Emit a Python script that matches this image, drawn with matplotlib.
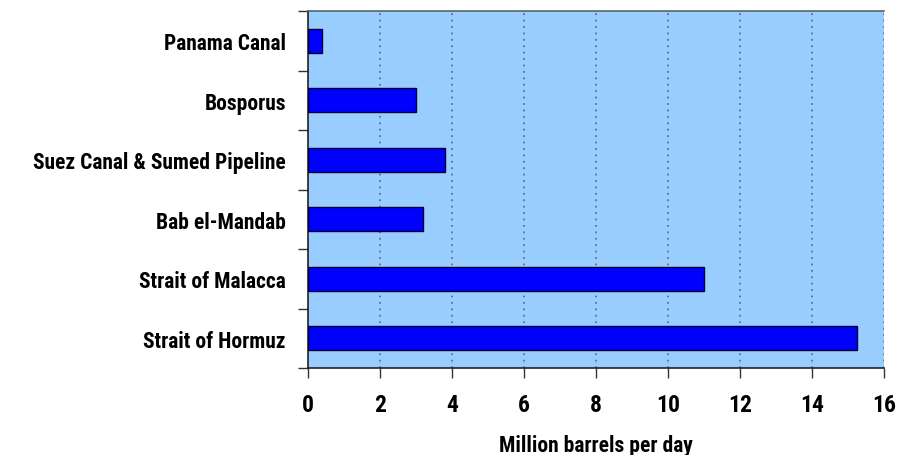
import matplotlib
matplotlib.use("Agg")
import matplotlib.pyplot as plt
from matplotlib import font_manager
import numpy as np

categories = ["Panama Canal", "Bosporus", "Suez Canal & Sumed Pipeline",
              "Bab el-Mandab", "Strait of Malacca", "Strait of Hormuz"]
values = [0.4, 3.0, 3.8, 3.2, 11.0, 15.25]
xticks = [0, 2, 4, 6, 8, 10, 12, 14, 16]

names = {f.name for f in font_manager.fontManager.ttflist}
narrow = None
for cand in ["Liberation Sans Narrow", "Roboto Condensed", "Open Sans Condensed", "Arial Narrow"]:
    if cand in names:
        narrow = cand
        break
has_dv_cond = any(f.name == "DejaVu Sans" and f.stretch == "condensed" for f in font_manager.fontManager.ttflist)

if narrow:
    FONT = [narrow, "Liberation Sans"]
    STRETCH = "normal"
    YS, XS, LS = 15.5, 17, 15.5
elif has_dv_cond:
    FONT = ["DejaVu Sans"]
    STRETCH = "condensed"
    YS, XS, LS = 12.5, 14, 13.5
else:
    FONT = ["Liberation Sans", "DejaVu Sans"]
    STRETCH = "normal"
    YS, XS, LS = 12.5, 14, 13.5

fig = plt.figure(figsize=(8.98, 4.56), dpi=100)
ax = fig.add_axes([308/898, 1-369/456, (884-308)/898, (369-12)/456])
ax.set_facecolor("#99CCFF")

y = np.arange(len(categories))
ax.barh(y, values, height=0.41, color="#0000FF", edgecolor="#000033", linewidth=1.0, zorder=3)

ax.set_xlim(0, 16)
ax.set_ylim(len(categories)-0.5, -0.5)

fp_kw = dict(fontfamily=FONT, fontweight=900, fontstretch=STRETCH)
ax.set_xticks(xticks)
ax.set_xticklabels([str(t) for t in xticks], fontsize=XS, **fp_kw)
ax.set_yticks(y)
ax.set_yticklabels(categories, fontsize=YS, **fp_kw)
ax.set_yticks(np.arange(-0.5, len(categories)), minor=True)
ax.tick_params(axis="y", which="major", length=0, pad=16)
ax.tick_params(axis="y", which="minor", length=7, width=1, color="#333333", direction="out")
ax.tick_params(axis="x", which="major", length=7, width=1, color="#333333", pad=11)

for t in xticks[1:]:
    ax.axvline(t, color="#556677", linestyle=(0, (1.2, 3.0)), linewidth=1.1, zorder=2)

for side in ["left", "bottom"]:
    ax.spines[side].set_color("#222222")
    ax.spines[side].set_linewidth(1.2)
ax.spines["top"].set_color("#556666")
ax.spines["top"].set_linewidth(1.2)
ax.spines["right"].set_visible(False)

ax.set_xlabel("Million barrels per day", fontsize=LS, labelpad=13, **fp_kw)

fig.savefig("out.png", dpi=100)
